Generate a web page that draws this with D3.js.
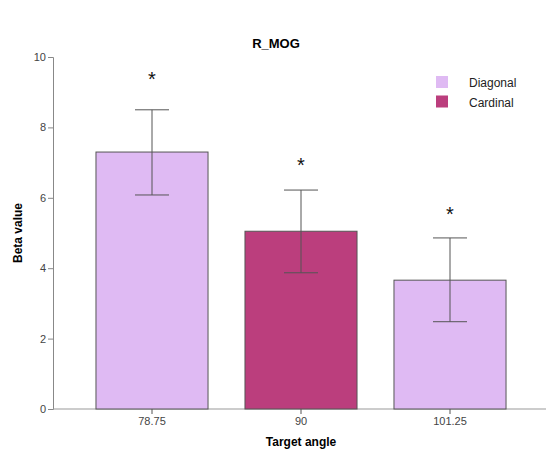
<!DOCTYPE html>
<html>
<head>
<meta charset="utf-8">
<script src="https://cdn.jsdelivr.net/npm/d3@7"></script>
<style>
  body { margin: 0; background: #fff; }
  text { font-family: Arial, "Liberation Sans", sans-serif; }
</style>
</head>
<body>
<svg id="chart" width="546" height="455"></svg>
<script>
// data
var angles = ['78.75', '90', '101.25'];
var groups = ['Diagonal', 'Cardinal', 'Diagonal'];
var betas = [7.30, 5.05, 3.66];
var errLow = [6.08, 3.87, 2.48];
var errHigh = [8.50, 6.22, 4.86];
var starLevel = [9.40, 6.96, 5.57]; // where the significance mark sits
var legendNames = ['Diagonal', 'Cardinal'];
var yTicks = [0, 2, 4, 6, 8, 10];

var colors = { Diagonal: '#dfbaf3', Cardinal: '#bb3e7d' };

var svg = d3.select('#chart');

var x = d3.scaleBand()
  .domain(angles)
  .range([77.5, 524.5])
  .paddingInner(0.248)
  .paddingOuter(0.124);

var y = d3.scaleLinear()
  .domain([0, 10])
  .range([409, 57]);

// y axis
var yAxis = svg.append('g')
  .attr('transform', 'translate(53,0)')
  .call(d3.axisLeft(y).tickValues(yTicks).tickSize(5).tickPadding(2));
yAxis.select('.domain').attr('stroke', '#888');
yAxis.selectAll('.tick line').attr('stroke', '#888');
yAxis.selectAll('.tick text').attr('fill', '#444').style('font-size', '11px');

// baseline across the plot
svg.append('line')
  .attr('x1', 53).attr('x2', 546)
  .attr('y1', y(0)).attr('y2', y(0))
  .attr('stroke', '#999');

// bars
svg.selectAll('rect.bar')
  .data(angles)
  .enter().append('rect')
  .attr('class', 'bar')
  .attr('x', function (d) { return x(d); })
  .attr('width', x.bandwidth())
  .attr('y', function (d, i) { return y(betas[i]); })
  .attr('height', function (d, i) { return y(0) - y(betas[i]); })
  .attr('fill', function (d, i) { return colors[groups[i]]; })
  .attr('stroke', '#555')
  .attr('stroke-width', 1);

// x axis
var xAxis = svg.append('g')
  .attr('transform', 'translate(0,' + y(0) + ')')
  .call(d3.axisBottom(x).tickSize(5).tickPadding(3));
xAxis.select('.domain').remove();
xAxis.selectAll('.tick line').attr('stroke', '#555');
xAxis.selectAll('.tick text').attr('fill', '#444').style('font-size', '11px');

// error bars + significance marks
var capHalf = 17;
var err = svg.append('g').attr('stroke', '#555').attr('stroke-width', 1);
angles.forEach(function (d, i) {
  var cx = x(d) + x.bandwidth() / 2;
  err.append('line')
    .attr('x1', cx).attr('x2', cx)
    .attr('y1', y(errLow[i])).attr('y2', y(errHigh[i]));
  err.append('line')
    .attr('x1', cx - capHalf).attr('x2', cx + capHalf)
    .attr('y1', y(errHigh[i])).attr('y2', y(errHigh[i]));
  err.append('line')
    .attr('x1', cx - capHalf).attr('x2', cx + capHalf)
    .attr('y1', y(errLow[i])).attr('y2', y(errLow[i]));

  svg.append('text')
    .attr('x', cx)
    .attr('y', y(starLevel[i]) + 8)
    .attr('text-anchor', 'middle')
    .style('font-size', '20px')
    .attr('fill', '#111')
    .text('*');
});

// title
svg.append('text')
  .attr('x', 276).attr('y', 48)
  .attr('text-anchor', 'middle')
  .style('font-size', '13px')
  .style('font-weight', 'bold')
  .text('R_MOG');

// axis titles
svg.append('text')
  .attr('x', 301).attr('y', 446)
  .attr('text-anchor', 'middle')
  .style('font-size', '12px')
  .style('font-weight', 'bold')
  .text('Target angle');

svg.append('text')
  .attr('transform', 'translate(22,233) rotate(-90)')
  .attr('text-anchor', 'middle')
  .style('font-size', '12px')
  .style('font-weight', 'bold')
  .text('Beta value');

// legend
var legend = svg.append('g').attr('transform', 'translate(436,76)');
legendNames.forEach(function (name, i) {
  legend.append('rect')
    .attr('x', 0).attr('y', i * 19.5)
    .attr('width', 12).attr('height', 12)
    .attr('fill', colors[name]);
  legend.append('text')
    .attr('x', 33).attr('y', i * 19.5 + 11)
    .style('font-size', '12px')
    .attr('fill', '#222')
    .text(name);
});
</script>
</body>
</html>
